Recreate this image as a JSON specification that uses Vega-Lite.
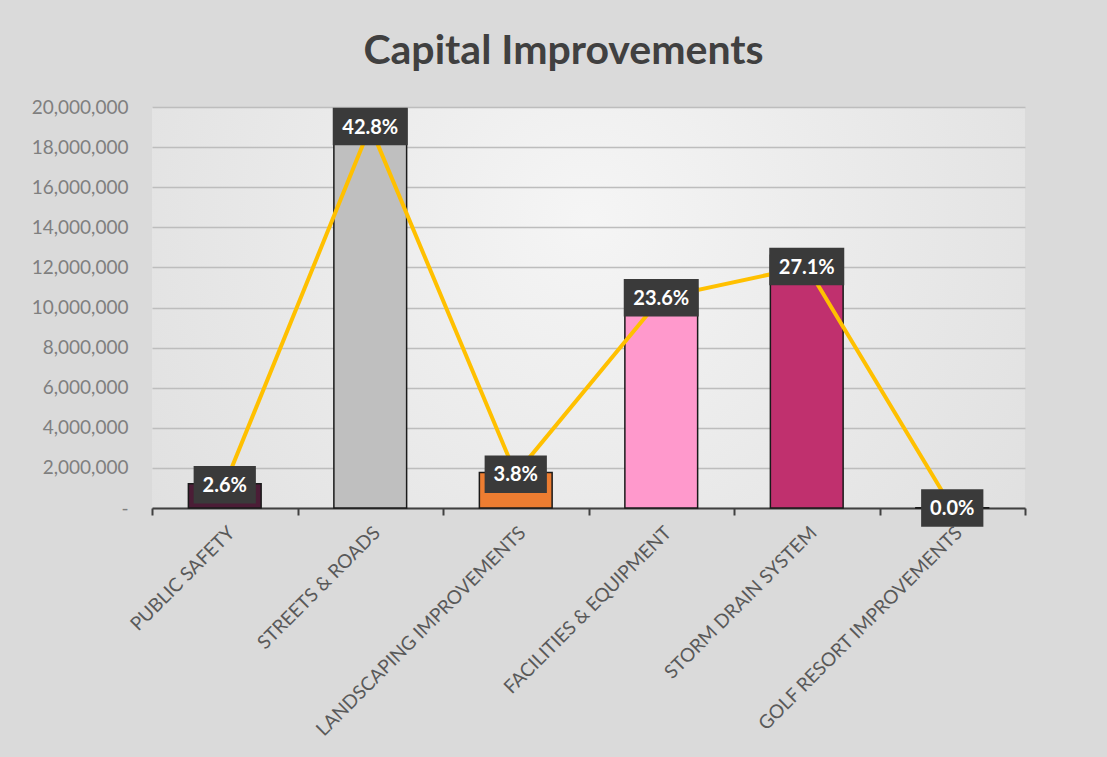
{
  "$schema": "https://vega.github.io/schema/vega-lite/v6.json",
  "width": 873,
  "height": 401,
  "autosize": {"type": "none"},
  "padding": {"left": 152, "top": 107, "right": 82, "bottom": 249},
  "background": "#dadada",
  "config": {
    "view": {
      "stroke": null,
      "fill": {"gradient": "radial", "x1": 0.5, "y1": 0.4, "r1": 0, "x2": 0.5, "y2": 0.4, "r2": 0.78,
        "stops": [{"offset": 0, "color": "#f5f5f5"}, {"offset": 1, "color": "#dadada"}]}
    },
    "font": "Lato"
  },
  "title": {
    "text": "Capital Improvements",
    "font": "Lato",
    "fontSize": 41,
    "fontWeight": "bold",
    "color": "#404040",
    "anchor": "middle",
    "dx": -25,
    "offset": 25
  },
  "data": {
    "values": [
      {"category": "PUBLIC SAFETY", "amount": 1210000, "pct": 0.026},
      {"category": "STREETS & ROADS", "amount": 19900000, "pct": 0.428},
      {"category": "LANDSCAPING IMPROVEMENTS", "amount": 1767000, "pct": 0.038},
      {"category": "FACILITIES & EQUIPMENT", "amount": 10974000, "pct": 0.236},
      {"category": "STORM DRAIN SYSTEM", "amount": 12600000, "pct": 0.271},
      {"category": "GOLF RESORT IMPROVEMENTS", "amount": 10000, "pct": 0.0}
    ]
  },
  "encoding": {
    "x": {
      "field": "category",
      "type": "nominal",
      "sort": null,
      "scale": {"paddingInner": 0, "paddingOuter": 0},
      "axis": {
        "title": null,
        "labelAngle": -45,
        "labelFontSize": 19,
        "labelColor": "#595959",
        "labelPadding": 8,
        "labelLimit": 400,
        "domainColor": "#404040",
        "domainWidth": 2,
        "tickColor": "#404040",
        "tickWidth": 2,
        "tickSize": 7,
        "tickBand": "extent",
        "grid": false,
        "zindex": 0
      }
    }
  },
  "layer": [
    {
      "mark": {"type": "bar", "width": {"band": 0.5}, "stroke": "#1a1a1a", "strokeWidth": 1.5},
      "encoding": {
        "y": {
          "field": "amount",
          "type": "quantitative",
          "scale": {"domain": [0, 20000000]},
          "axis": {
            "title": null,
            "orient": "left",
            "values": [0, 2000000, 4000000, 6000000, 8000000, 10000000, 12000000, 14000000, 16000000, 18000000, 20000000],
            "labelExpr": "datum.value == 0 ? '-' : format(datum.value, ',')",
            "labelFontSize": 19,
            "labelColor": "#7f7f7f",
            "labelPadding": 24,
            "domain": false,
            "ticks": false,
            "grid": true,
            "gridColor": "#bdbdbd",
            "gridWidth": 1.5
          }
        },
        "color": {
          "field": "category",
          "type": "nominal",
          "sort": null,
          "legend": null,
          "scale": {
            "domain": ["PUBLIC SAFETY", "STREETS & ROADS", "LANDSCAPING IMPROVEMENTS", "FACILITIES & EQUIPMENT", "STORM DRAIN SYSTEM", "GOLF RESORT IMPROVEMENTS"],
            "range": ["#4b1d36", "#bfbfbf", "#ed7d31", "#ff99cc", "#c0306e", "#7f7f7f"]
          }
        }
      }
    },
    {
      "encoding": {
        "y": {
          "field": "pct",
          "type": "quantitative",
          "scale": {"domain": [0, 0.45]}
        }
      },
      "layer": [
        {
          "mark": {"type": "line", "color": "#ffc000", "strokeWidth": 4},
          "encoding": {
            "y": {
              "field": "pct",
              "type": "quantitative",
              "axis": {
                "title": null,
                "orient": "right",
                "values": [0, 0.05, 0.1, 0.15, 0.2, 0.25, 0.3, 0.35, 0.4, 0.45],
                "format": ".1%",
                "labelFontSize": 19,
                "labelColor": "#858585",
                "labelPadding": 20,
                "domain": false,
                "ticks": false,
                "grid": false
              }
            }
          }
        },
        {
          "mark": {"type": "point", "filled": true, "fill": "#3a3a3a", "opacity": 1, "strokeWidth": 0, "size": 5625},
          "encoding": {
            "y": {"field": "pct", "type": "quantitative", "axis": null},
            "shape": {
              "condition": {"test": "datum.pct >= 0.1", "value": "M-1,-0.5H1V0.5H-1Z"},
              "value": "M-0.83,-0.5H0.83V0.5H-0.83Z"
            }
          }
        },
        {
          "mark": {"type": "text", "color": "#ffffff", "fontSize": 20, "fontWeight": "bold", "font": "Lato", "baseline": "middle", "dy": 1},
          "encoding": {
            "y": {"field": "pct", "type": "quantitative", "axis": null},
            "text": {"field": "pct", "type": "quantitative", "format": ".1%"}
          }
        }
      ]
    }
  ],
  "resolve": {"scale": {"y": "independent", "color": "independent"}}
}
